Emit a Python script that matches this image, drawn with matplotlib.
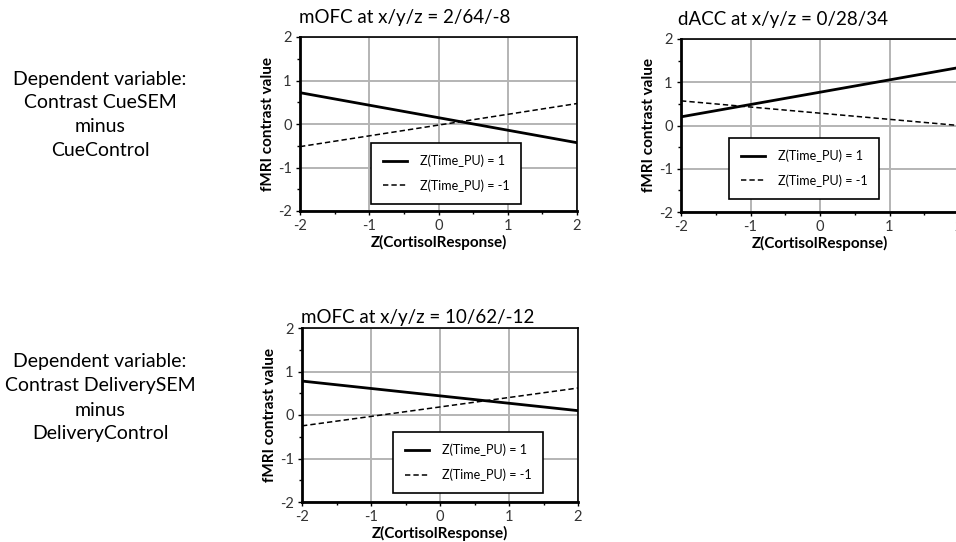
import matplotlib
matplotlib.use("Agg")
import matplotlib.pyplot as plt
from matplotlib.ticker import MultipleLocator

plt.rcParams['font.family'] = ['Lato', 'DejaVu Sans']
plt.rcParams['axes.unicode_minus'] = False

x_vals = [-2, 2]
titles = ["mOFC at x/y/z = 2/64/-8", "dACC at x/y/z = 0/28/34", "mOFC at x/y/z = 10/62/-12"]
solid_vals = [[0.72, -0.43], [0.20, 1.34], [0.78, 0.10]]
dashed_vals = [[-0.52, 0.47], [0.57, 0.00], [-0.25, 0.62]]
legend_labels = ["Z(Time_PU) = 1", "Z(Time_PU) = -1"]
xlabel = "Z(CortisolResponse)"
ylabel = "fMRI contrast value"
side_texts = ["Dependent variable:\nContrast CueSEM\nminus\nCueControl",
              "Dependent variable:\nContrast DeliverySEM\nminus\nDeliveryControl"]

W, H = 956, 542
fig = plt.figure(figsize=(W / 100, H / 100), dpi=100)

def fr(l, t, r, b):
    return [l / W, 1 - b / H, (r - l) / W, (b - t) / H]

positions = [fr(300, 37, 577, 211), fr(681, 39, 959, 212), fr(302, 328, 578, 502)]
leg_anchor = [(0.256, 0.391), (0.173, 0.428), (0.33, 0.402)]
title_pos = [(405, 18), (783, 20), (418, 317)]

for i in range(3):
    ax = fig.add_axes(positions[i])
    ax.plot(x_vals, solid_vals[i], color='black', lw=2.0, label=legend_labels[0])
    ax.plot(x_vals, dashed_vals[i], color='black', lw=1.1, ls=(0, (3.5, 2)), label=legend_labels[1])
    ax.set_xlim(-2, 2)
    ax.set_ylim(-2, 2)
    ax.xaxis.set_major_locator(MultipleLocator(1))
    ax.yaxis.set_major_locator(MultipleLocator(1))
    ax.xaxis.set_minor_locator(MultipleLocator(0.5))
    ax.yaxis.set_minor_locator(MultipleLocator(0.5))
    ax.grid(True, which='major', color='#b4b4b4', lw=1.4)
    ax.set_axisbelow(True)
    for s in ax.spines.values():
        s.set_color('black')
        s.set_linewidth(1.2)
    ax.spines['left'].set_linewidth(2)
    ax.spines['bottom'].set_linewidth(2)
    ax.tick_params(which='major', length=3, width=1, direction='out', labelsize=10.5,
                   labelcolor='#333333', pad=3)
    ax.tick_params(which='minor', length=2.5, width=1, direction='out')
    ax.set_xlabel(xlabel, fontsize=11, fontweight='bold', labelpad=1)
    ax.set_ylabel(ylabel, fontsize=11, fontweight='bold', labelpad=2)
    leg = ax.legend(loc='upper left', bbox_to_anchor=leg_anchor[i], fontsize=9,
                    frameon=True, fancybox=False, edgecolor='black', handlelength=1.9,
                    borderpad=0.95, labelspacing=0.95, handletextpad=1.05, borderaxespad=0)
    leg.get_frame().set_linewidth(1.2)
    leg.get_frame().set_alpha(1)
    tx, ty = title_pos[i]
    fig.text(tx / W, 1 - ty / H, titles[i], fontsize=13.5, ha='center', va='center')

fig.text(100 / W, 1 - 115 / H, side_texts[0], fontsize=14, ha='center', va='center',
         linespacing=1.5)
fig.text(100 / W, 1 - 398 / H, side_texts[1], fontsize=14, ha='center', va='center',
         linespacing=1.5)

fig.savefig("out.png", dpi=100)
